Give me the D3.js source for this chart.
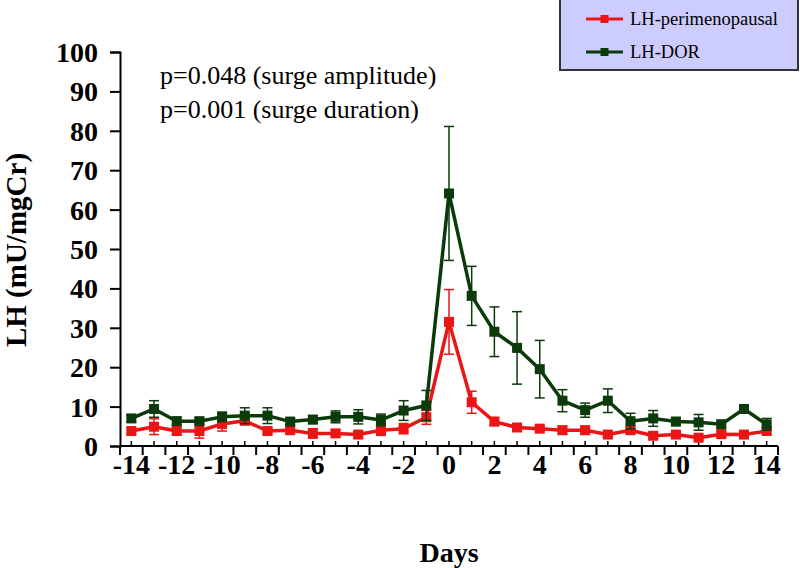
<!DOCTYPE html>
<html>
<head>
<meta charset="utf-8">
<script src="https://cdn.jsdelivr.net/npm/d3@7"></script>
<style>
  html, body { margin: 0; padding: 0; background: #fff; }
  svg { display: block; }
  text { font-family: "Liberation Serif", "Times New Roman", serif; }
</style>
</head>
<body>
<svg id="chart" width="800" height="568"></svg>
<script>
// ---- data ----
const days = [-14,-13,-12,-11,-10,-9,-8,-7,-6,-5,-4,-3,-2,-1,0,1,2,3,4,5,6,7,8,9,10,11,12,13,14];
const perimenopausal = [3.8,4.9,3.8,3.8,5.6,6.4,3.8,4.0,3.2,3.2,2.9,4.0,4.4,7.3,31.5,11.1,6.2,4.7,4.4,4.0,4.0,2.9,4.0,2.6,2.9,2.1,3.0,2.9,3.8];
const perimenopausalErr = [0.8,2.0,1.0,1.8,1.8,0.8,0.8,0.8,1.2,0.8,0.8,1.3,1.3,1.8,8.2,2.8,1.0,0.6,0.6,1.0,1.0,0.6,0.8,0.8,0.6,0.6,0.8,0.8,0.8];
const dor = [7.0,9.4,6.3,6.3,7.4,7.7,7.7,6.2,6.7,7.4,7.4,6.6,9.0,10.3,64.1,38.1,29.0,24.9,19.5,11.5,9.1,11.5,6.3,7.0,6.2,6.0,5.5,9.4,5.5];
const dorErr = [0.8,2.1,1.0,0.8,1.2,2.0,2.0,0.8,1.0,1.5,1.8,1.5,2.5,3.8,17.0,7.5,6.3,9.2,7.3,2.8,1.8,3.0,2.0,2.0,1.0,2.0,1.0,1.0,1.5];
const yTicks = [0,10,20,30,40,50,60,70,80,90,100];
const xLabels = [-14,-12,-10,-8,-6,-4,-2,0,2,4,6,8,10,12,14];
const seriesNames = ["LH-perimenopausal", "LH-DOR"];
const annotations = ["p=0.048 (surge amplitude)", "p=0.001 (surge duration)"];

const colors = { "LH-perimenopausal": "#ec1515", "LH-DOR": "#0b3b0b" };

const svg = d3.select("#chart");
const x = d3.scaleBand().domain(days).range([120, 778]).padding(0);
const cx = d => x(d) + x.bandwidth() / 2;
const y = d3.scaleLinear().domain([0, 100]).range([446, 52]);

// ---- y axis ----
const yAxis = svg.append("g").attr("transform", "translate(120,0)")
  .call(d3.axisLeft(y).tickValues(yTicks).tickSize(10).tickPadding(12).tickFormat(d3.format("d")));
yAxis.select(".domain").attr("stroke", "#000").attr("stroke-width", 2);
yAxis.selectAll(".tick line").attr("stroke", "#000").attr("stroke-width", 2);
yAxis.selectAll("text").attr("font-family", "Liberation Serif").attr("font-weight", "bold")
  .attr("font-size", 28).attr("fill", "#000").attr("dy", "0.34em");

// ---- x axis ----
const xg = svg.append("g");
xg.append("line").attr("x1", 120).attr("x2", 778).attr("y1", 446).attr("y2", 446)
  .attr("stroke", "#000").attr("stroke-width", 2);
// boundary ticks (below)
const bounds = days.map(d => x(d)).concat([x(days[days.length - 1]) + x.bandwidth()]);
xg.selectAll("line.bt").data(bounds).join("line").attr("class", "bt")
  .attr("x1", d => d).attr("x2", d => d).attr("y1", 446).attr("y2", 455)
  .attr("stroke", "#000").attr("stroke-width", 2);
// small ticks at category centers (above)
xg.selectAll("line.ct").data(days).join("line").attr("class", "ct")
  .attr("x1", d => cx(d)).attr("x2", d => cx(d)).attr("y1", 446).attr("y2", 441)
  .attr("stroke", "#000").attr("stroke-width", 1.5);
xg.selectAll("text.xl").data(xLabels).join("text").attr("class", "xl")
  .attr("x", d => cx(d)).attr("y", 474).attr("text-anchor", "middle")
  .attr("font-weight", "bold").attr("font-size", 28).attr("fill", "#000")
  .text(d => d);

// ---- axis titles ----
svg.append("text").attr("x", 449).attr("y", 562).attr("text-anchor", "middle")
  .attr("font-weight", "bold").attr("font-size", 28).text("Days");
svg.append("text").attr("transform", "translate(26,250) rotate(-90)").attr("text-anchor", "middle")
  .attr("font-weight", "bold").attr("font-size", 29).text("LH (mU/mgCr)");

// ---- annotations ----
svg.selectAll("text.ann").data(annotations).join("text").attr("class", "ann")
  .attr("x", 160).attr("y", (d, i) => 84 + i * 34)
  .attr("font-size", 26).attr("fill", "#000").text(d => d);

// ---- series ----
const series = [
  { name: seriesNames[0], vals: perimenopausal, err: perimenopausalErr },
  { name: seriesNames[1], vals: dor, err: dorErr }
];
const line = d3.line().x(d => cx(d.day)).y(d => y(d.v));
series.forEach(s => {
  const pts = days.map((d, i) => ({ day: d, v: s.vals[i], e: s.err[i] }));
  const g = svg.append("g");
  const col = colors[s.name];
  // error bars
  g.selectAll("line.eb").data(pts).join("line")
    .attr("x1", d => cx(d.day)).attr("x2", d => cx(d.day))
    .attr("y1", d => y(d.v + d.e)).attr("y2", d => y(d.v - d.e))
    .attr("stroke", col).attr("stroke-width", 1.5);
  ["+", "-"].forEach(sgn => {
    g.selectAll("line.cap" + (sgn === "+" ? "t" : "b")).data(pts).join("line")
      .attr("x1", d => cx(d.day) - 5).attr("x2", d => cx(d.day) + 5)
      .attr("y1", d => y(sgn === "+" ? d.v + d.e : d.v - d.e))
      .attr("y2", d => y(sgn === "+" ? d.v + d.e : d.v - d.e))
      .attr("stroke", col).attr("stroke-width", 1.5);
  });
  g.append("path").datum(pts).attr("d", line).attr("fill", "none")
    .attr("stroke", col).attr("stroke-width", 3.5).attr("stroke-linejoin", "round");
  g.selectAll("rect.m").data(pts).join("rect")
    .attr("x", d => cx(d.day) - 5).attr("y", d => y(d.v) - 5)
    .attr("width", 10).attr("height", 10).attr("fill", col);
});

// ---- legend ----
const lg = svg.append("g");
lg.append("rect").attr("x", 560).attr("y", -2).attr("width", 238).attr("height", 72)
  .attr("fill", "#ccccff").attr("stroke", "#333").attr("stroke-width", 2);
seriesNames.forEach((n, i) => {
  const yy = 19 + i * 33;
  lg.append("line").attr("x1", 586).attr("x2", 623).attr("y1", yy).attr("y2", yy)
    .attr("stroke", colors[n]).attr("stroke-width", 3);
  lg.append("rect").attr("x", 604.5 - 4).attr("y", yy - 4).attr("width", 8).attr("height", 8)
    .attr("fill", colors[n]);
  lg.append("text").attr("x", 630).attr("y", yy + 6).attr("font-size", 18.5).attr("fill", "#000").text(n);
});
</script>
</body>
</html>
